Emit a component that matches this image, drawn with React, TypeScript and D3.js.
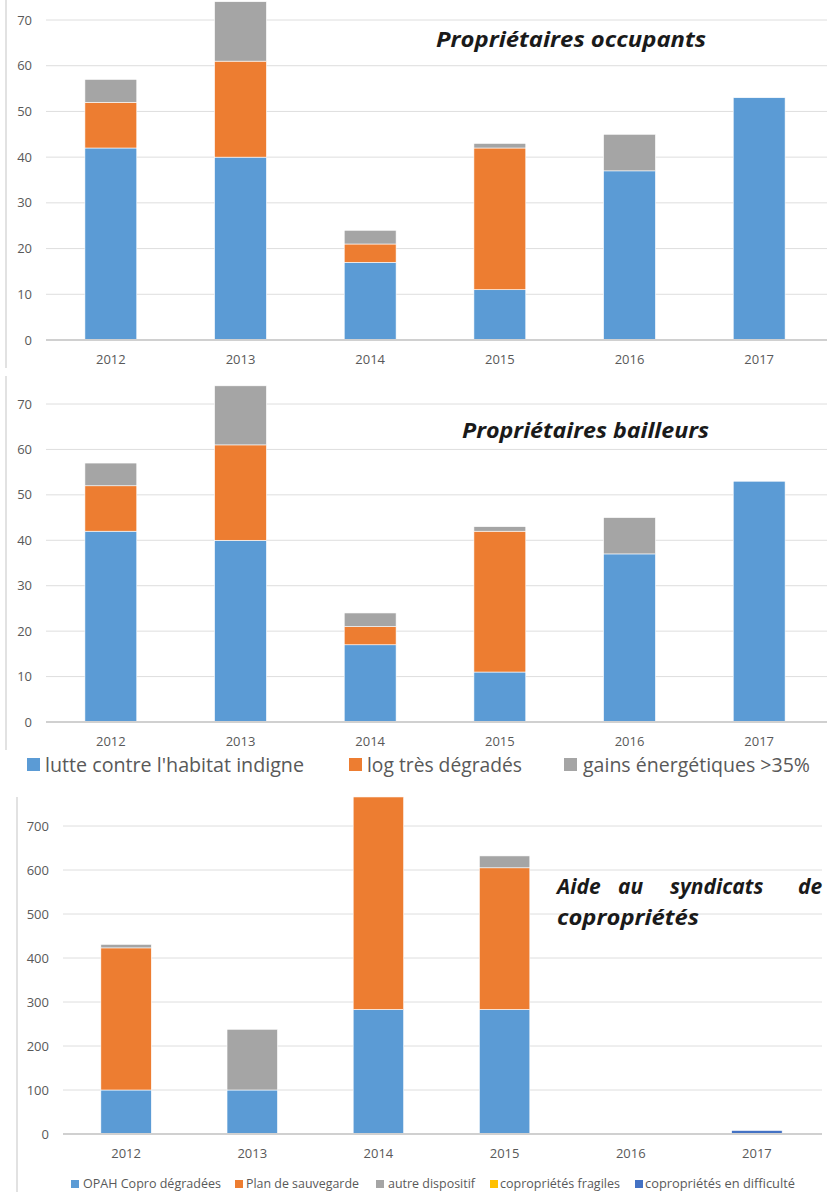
import { useRef, useEffect } from 'react';
import * as d3 from 'd3';

const years = ['2012', '2013', '2014', '2015', '2016', '2017'];

// Propriétaires occupants
const poLutte = [42, 40, 17, 11, 37, 53];
const poLog = [10, 21, 4, 31, 0, 0];
const poGains = [5, 13, 3, 1, 8, 0];

// Propriétaires bailleurs
const pbLutte = [42, 40, 17, 11, 37, 53];
const pbLog = [10, 21, 4, 31, 0, 0];
const pbGains = [5, 13, 3, 1, 8, 0];

// Aide au syndicats de copropriétés
const opah = [100, 100, 283, 283, 0, 0];
const sauvegarde = [323, 0, 483, 322, 0, 0];
const autre = [8, 138, 0, 27, 0, 0];
const fragiles = [0, 0, 0, 0, 0, 0];
const difficulte = [0, 0, 0, 0, 0, 8];

const logTicks = [0, 10, 20, 30, 40, 50, 60, 70];
const coproTicks = [0, 100, 200, 300, 400, 500, 600, 700];

const logSeries = ['lutte contre l\'habitat indigne', 'log très dégradés', 'gains énergétiques >35%'];
const coproSeries = ['OPAH Copro dégradées', 'Plan de sauvegarde', 'autre dispositif', 'copropriétés fragiles', 'copropriétés en difficulté'];

const BLUE = '#5b9bd5';
const ORANGE = '#ed7d31';
const GRAY = '#a5a5a5';
const YELLOW = '#ffc000';
const DARKBLUE = '#4472c4';
const TICK = '#595959';
const GRID = '#dedede';
const FONT = '"Open Sans", sans-serif';

interface Panel {
  series: number[][];
  colors: string[];
  ticks: number[];
  x0: number; x1: number; y0: number; yTop: number; gridRight: number;
}

export default function App() {
  const svgRef = useRef<SVGSVGElement>(null);

  useEffect(() => {
    const svg = svgRef.current;
    if (!svg) return;
    const root = d3.select(svg);
    root.selectAll('*').remove();

    const drawPanel = (p: Panel) => {
      const g = root.append('g');
      const max = p.ticks[p.ticks.length - 1];
      const y = d3.scaleLinear().domain([0, max]).range([p.y0, p.yTop]);
      const x = d3.scaleBand().domain(years).range([p.x0, p.x1]).paddingInner(0.6).paddingOuter(0.3);

      p.ticks.forEach(t => {
        if (t > 0) {
          g.append('line').attr('x1', p.x0).attr('x2', p.gridRight).attr('y1', y(t)).attr('y2', y(t))
            .attr('stroke', GRID).attr('stroke-width', 1);
        }
        g.append('text').attr('x', p.x0 - 14).attr('y', y(t)).attr('dy', '0.35em').attr('text-anchor', 'end')
          .attr('fill', TICK).attr('font-family', FONT).attr('font-size', 13).text(t);
      });

      const rows = years.map((yr, i) => {
        const r: any = { year: yr };
        p.series.forEach((s, k) => { r['s' + k] = s[i]; });
        return r;
      });
      const stack = d3.stack<any>().keys(p.series.map((_, k) => 's' + k))(rows);
      stack.forEach((layer, k) => {
        g.selectAll(null).data(layer.filter(d => d[1] - d[0] > 0)).join('rect')
          .attr('x', d => x(d.data.year)!)
          .attr('width', x.bandwidth())
          .attr('y', d => y(d[1]))
          .attr('height', d => y(d[0]) - y(d[1]))
          .attr('fill', p.colors[k])
          .attr('stroke', '#ffffff').attr('stroke-width', 0.6);
      });

      g.append('line').attr('x1', p.x0).attr('x2', p.gridRight).attr('y1', p.y0).attr('y2', p.y0)
        .attr('stroke', '#d0d0d0').attr('stroke-width', 2);

      years.forEach(yr => {
        g.append('text').attr('x', x(yr)! + x.bandwidth() / 2).attr('y', p.y0 + 24).attr('text-anchor', 'middle')
          .attr('fill', TICK).attr('font-family', FONT).attr('font-size', 13).text(yr);
      });
    };

    const title = (txt: string, xPos: number, yPos: number, len: number) => {
      root.append('text').attr('x', xPos).attr('y', yPos).attr('fill', '#1a1a1a')
        .attr('font-family', FONT).attr('font-weight', 700).attr('font-style', 'italic').attr('font-size', 21)
        .attr('textLength', len).attr('lengthAdjust', 'spacingAndGlyphs').text(txt);
    };

    // chart frames
    const frame = [[6, 0, 368], [6, 376, 750], [17, 797, 1192]];
    frame.forEach(([fx, a, b]) => {
      root.append('line').attr('x1', fx).attr('x2', fx).attr('y1', a).attr('y2', b)
        .attr('stroke', '#d9d9d9').attr('stroke-width', 1.5);
    });

    drawPanel({ series: [poLutte, poLog, poGains], colors: [BLUE, ORANGE, GRAY], ticks: logTicks, x0: 46, x1: 824, y0: 340, yTop: 20, gridRight: 827 });
    title('Propriétaires occupants', 436, 47, 270);

    drawPanel({ series: [pbLutte, pbLog, pbGains], colors: [BLUE, ORANGE, GRAY], ticks: logTicks, x0: 46, x1: 824, y0: 722, yTop: 404, gridRight: 827 });
    title('Propriétaires bailleurs', 462, 438, 247);

    // legend for the two first charts
    const legX = [[27, 45, 259], [349, 367, 155], [564, 583, 227]];
    logSeries.forEach((name, i) => {
      const [sx, tx, len] = legX[i];
      root.append('rect').attr('x', sx).attr('y', 758).attr('width', 13).attr('height', 13).attr('fill', [BLUE, ORANGE, GRAY][i]);
      root.append('text').attr('x', tx).attr('y', 772).attr('fill', TICK).attr('font-family', FONT).attr('font-size', 20)
        .attr('textLength', len).attr('lengthAdjust', 'spacingAndGlyphs').text(name);
    });

    drawPanel({ series: [opah, sauvegarde, autre, fragiles, difficulte], colors: [BLUE, ORANGE, GRAY, YELLOW, DARKBLUE], ticks: coproTicks, x0: 63, x1: 820, y0: 1134, yTop: 826, gridRight: 822 });

    const words: [string, number][] = [['Aide', 557], ['au', 618], ['syndicats', 670], ['de', 798]];
    words.forEach(([w, wx]) => {
      root.append('text').attr('x', wx).attr('y', 894).attr('fill', '#1a1a1a')
        .attr('font-family', FONT).attr('font-weight', 700).attr('font-style', 'italic').attr('font-size', 21).text(w);
    });
    title('copropriétés', 557, 925, 142);

    const coproLeg = [[71, 83, 138], [235, 246, 113], [376, 388, 87], [490, 500, 120], [635, 645, 150]];
    coproSeries.forEach((name, i) => {
      const [sx, tx, len] = coproLeg[i];
      root.append('rect').attr('x', sx).attr('y', 1180).attr('width', 8).attr('height', 8).attr('fill', [BLUE, ORANGE, GRAY, YELLOW, DARKBLUE][i]);
      root.append('text').attr('x', tx).attr('y', 1188).attr('fill', TICK).attr('font-family', FONT).attr('font-size', 12)
        .attr('textLength', len).attr('lengthAdjust', 'spacingAndGlyphs').text(name);
    });
  }, []);

  return (
    <div style={{ position: 'absolute', left: 0, top: 0, width: 832, height: 1192, background: '#fff' }}>
      <svg ref={svgRef} width={832} height={1192} style={{ display: 'block' }} />
    </div>
  );
}
